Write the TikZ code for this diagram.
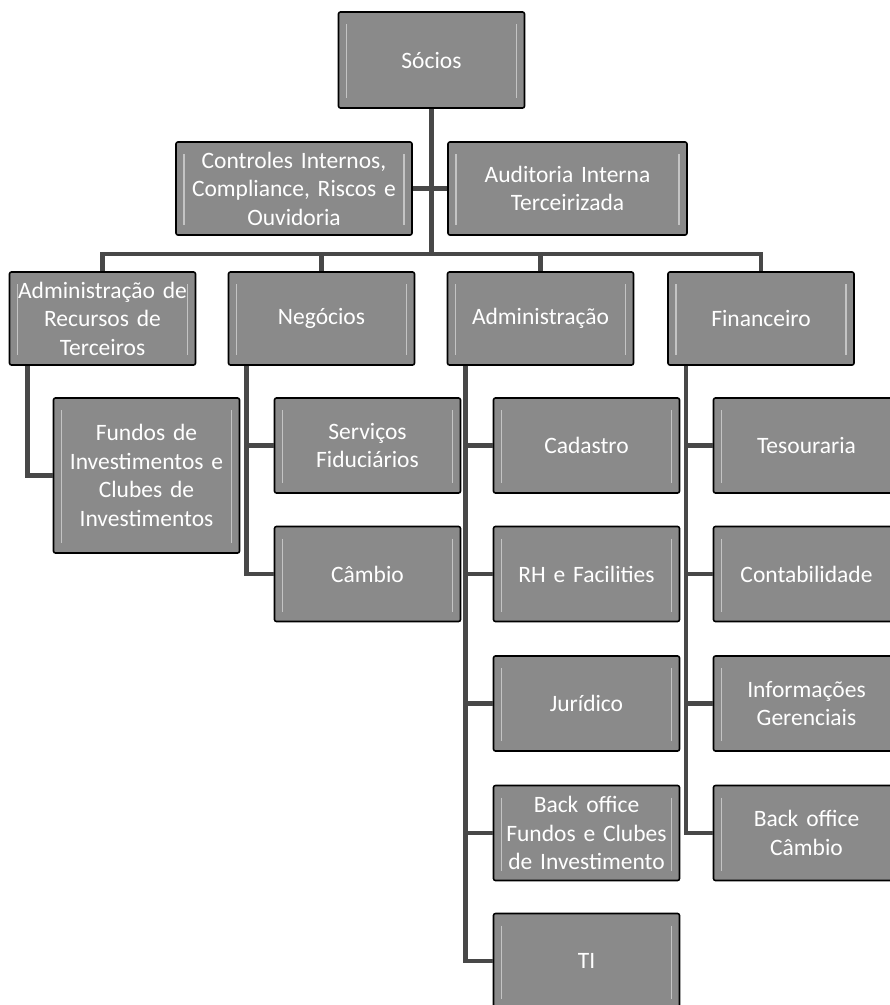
\documentclass[tikz,border=0pt]{standalone}
\usepackage{fontspec}
\setmainfont{Carlito}
\usetikzlibrary{positioning, calc}
\definecolor{boxgray}{HTML}{8A8A8A}
\definecolor{bevel}{HTML}{C4C4C4}
\definecolor{wire}{HTML}{484848}

\begin{document}
\begin{tikzpicture}[x=1pt, y=-1pt,
    every node/.style={font=\fontsize{23.5}{28.5}\selectfont},
    unit/.style={draw=black, line width=1.6pt, fill=boxgray, rounded corners=2pt,
                 text=white, align=center, inner sep=0pt,
                 minimum width=185pt, minimum height=95pt, text width=186pt,
                 path picture={
                   \draw[bevel, line width=1.6pt]
                     ([xshift=8pt,yshift=-12pt]path picture bounding box.north west) --
                     ([xshift=8pt,yshift=10pt]path picture bounding box.south west);
                   \draw[bevel, line width=1.6pt]
                     ([xshift=-8pt,yshift=-12pt]path picture bounding box.north east) --
                     ([xshift=-8pt,yshift=10pt]path picture bounding box.south east);
                 }},
    link/.style={draw=wire, line width=4.5pt}
]
    \useasboundingbox (0,0) rectangle (890,1005);

    % top
    \node[unit, minimum width=183pt, minimum height=96pt] (socios) at (431.5, 60) {Sócios};
    \node[unit, minimum width=236pt, minimum height=93pt, text width=232pt] (controles) at (294, 188.5)
        {Controles Internos,\\Compliance, Riscos e\\Ouvidoria};
    \node[unit, minimum width=239pt, minimum height=93pt, text width=232pt] (auditoria) at (567.5, 188.5)
        {Auditoria Interna\\Terceirizada};

    % areas
    \node[unit, minimum height=93pt] (admrec)   at (102.5, 318.5) {Administração de\\Recursos de\\Terceiros};
    \node[unit, minimum height=93pt] (negocios) at (321.5, 318.5) {Negócios};
    \node[unit, minimum height=93pt] (admin)    at (540.5, 318.5) {Administração};
    \node[unit, minimum height=93pt] (financ)   at (761, 318.5) {Financeiro};

    % children
    \node[unit, minimum height=155pt] (fundos) at (146.5, 475.5)
        {Fundos de\\Investimentos e\\Clubes de\\Investimentos};

    \node[unit] (servicos) at (367.5, 445.5) {Serviços\\Fiduciários};
    \node[unit] (cambio)   at (367.5, 574) {Câmbio};

    \node[unit] (cadastro) at (586.5, 445.5) {Cadastro};
    \node[unit] (rh)       at (586.5, 574) {RH e Facilities};
    \node[unit] (juridico) at (586.5, 703.5) {Jurídico};
    \node[unit] (bofundos) at (586.5, 833) {Back office\\Fundos e Clubes\\de Investimento};
    \node[unit] (ti)       at (586.5, 961) {TI};

    \node[unit] (tesour)   at (806.5, 445.5) {Tesouraria};
    \node[unit] (contab)   at (806.5, 574) {Contabilidade};
    \node[unit] (infoger)  at (806.5, 703.5) {Informações\\Gerenciais};
    \node[unit] (bocambio) at (806.5, 833) {Back office\\Câmbio};

    % connectors
    \coordinate (bus) at (431.5, 254);
    \draw[link] (socios.south) -- (bus);
    \draw[link] (controles.east) -- (controles.east -| bus);
    \draw[link] (auditoria.west) -- (auditoria.west -| bus);
    \draw[link] (admrec.north) |- (bus) -| (financ.north);
    \draw[link] (negocios.north) -- (negocios.north |- bus);
    \draw[link] (admin.north) -- (admin.north |- bus);

    \draw[link] ([xshift=19pt]admrec.south west) |- (fundos.west);
    \foreach \kid in {servicos, cambio}
        \draw[link] ([xshift=19pt]negocios.south west) |- (\kid.west);
    \foreach \kid in {cadastro, rh, juridico, bofundos, ti}
        \draw[link] ([xshift=19pt]admin.south west) |- (\kid.west);
    \foreach \kid in {tesour, contab, infoger, bocambio}
        \draw[link] ([xshift=19pt]financ.south west) |- (\kid.west);
\end{tikzpicture}
\end{document}
